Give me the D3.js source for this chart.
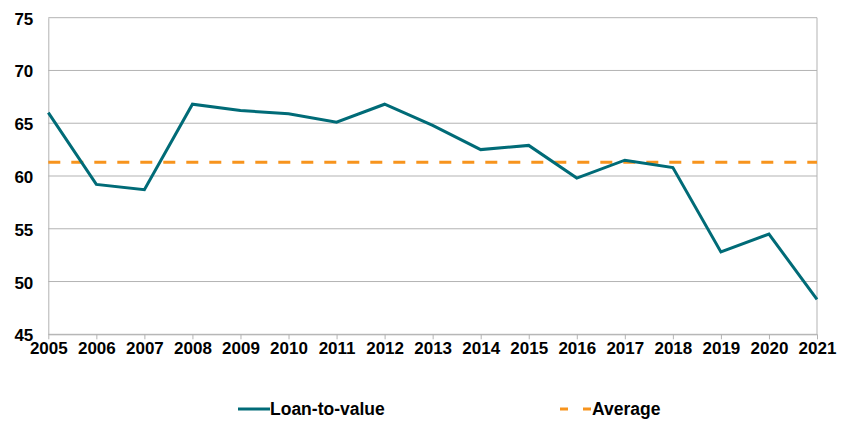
<!DOCTYPE html>
<html>
<head>
<meta charset="utf-8">
<script src="https://cdn.jsdelivr.net/npm/d3@7"></script>
<style>
  body { margin: 0; background: #fff; }
  text { font-family: "Liberation Sans", Arial, sans-serif; font-weight: bold; fill: #000; }
</style>
</head>
<body>
<div id="chart"></div>
<script>
// data
var years = [2005, 2006, 2007, 2008, 2009, 2010, 2011, 2012, 2013, 2014, 2015, 2016, 2017, 2018, 2019, 2020, 2021];
var loanToValue = [66.0, 59.2, 58.7, 66.8, 66.2, 65.9, 65.1, 66.8, 64.8, 62.5, 62.9, 59.8, 61.5, 60.8, 52.8, 54.5, 48.3];
var averageValue = 61.3;
var yTicks = [45, 50, 55, 60, 65, 70, 75];
var seriesNames = ["Loan-to-value", "Average"];

var width = 843, height = 422;
var margin = {top: 17.7, right: 26, bottom: 87.7, left: 48.3};

var svg = d3.select("#chart")
    .append("svg")
    .attr("width", width)
    .attr("height", height)

var x = d3.scaleLinear()
    .domain([2005, 2021])
    .range([margin.left, width - margin.right])

var y = d3.scaleLinear()
    .domain([45, 75])
    .range([height - margin.bottom, margin.top])

// grid lines
svg.append("g")
    .selectAll("line")
    .data(yTicks).enter().append("line")
        .attr("x1", margin.left)
        .attr("x2", width - margin.right)
        .attr("y1", function(d){ return y(d) })
        .attr("y2", function(d){ return y(d) })
        .attr("stroke", "#b3b3b3")
        .attr("stroke-width", 1)

// y axis
var yAxis = svg.append("g")
    .attr("transform", "translate(" + margin.left + ",0)")
    .call(d3.axisLeft(y).tickValues(yTicks).tickSize(0).tickPadding(15))
yAxis.select(".domain").attr("stroke", "#b3b3b3")
yAxis.selectAll("text").attr("font-size", "17px").attr("dy", "0.38em")

// right border
svg.append("line")
    .attr("x1", width - margin.right)
    .attr("x2", width - margin.right)
    .attr("y1", y(45))
    .attr("y2", y(75))
    .attr("stroke", "#b3b3b3")

// x axis
var xAxis = svg.append("g")
    .attr("transform", "translate(0," + y(45) + ")")
    .call(d3.axisBottom(x).tickValues(years).tickFormat(d3.format("d")).tickSizeInner(5).tickSizeOuter(0).tickPadding(3))
xAxis.select(".domain").attr("stroke", "#b3b3b3")
xAxis.selectAll(".tick line").attr("stroke", "#b3b3b3")
xAxis.selectAll("text").attr("font-size", "17px")

// average line
svg.append("line")
    .attr("x1", x(2005))
    .attr("x2", x(2021))
    .attr("y1", y(averageValue))
    .attr("y2", y(averageValue))
    .attr("stroke", "#f7941d")
    .attr("stroke-width", 3)
    .attr("stroke-dasharray", "12,11")

// loan-to-value line
var line = d3.line()
    .x(function(d, i){ return x(years[i]) })
    .y(function(d){ return y(d) })

svg.append("path")
    .datum(loanToValue)
    .attr("d", line)
    .attr("fill", "none")
    .attr("stroke", "#006b77")
    .attr("stroke-width", 3)
    .attr("stroke-linejoin", "miter")

// legend
var legend = svg.append("g")
legend.append("line")
    .attr("x1", 238).attr("x2", 270)
    .attr("y1", 409).attr("y2", 409)
    .attr("stroke", "#006b77").attr("stroke-width", 3)
legend.append("text")
    .attr("x", 270).attr("y", 409).attr("dy", "0.36em")
    .attr("font-size", "17.5px")
    .text(seriesNames[0])
legend.append("line")
    .attr("x1", 560).attr("x2", 592)
    .attr("y1", 409).attr("y2", 409)
    .attr("stroke", "#f7941d").attr("stroke-width", 3)
    .attr("stroke-dasharray", "8,15")
legend.append("text")
    .attr("x", 592).attr("y", 409).attr("dy", "0.36em")
    .attr("font-size", "17.5px")
    .text(seriesNames[1])
</script>
</body>
</html>
